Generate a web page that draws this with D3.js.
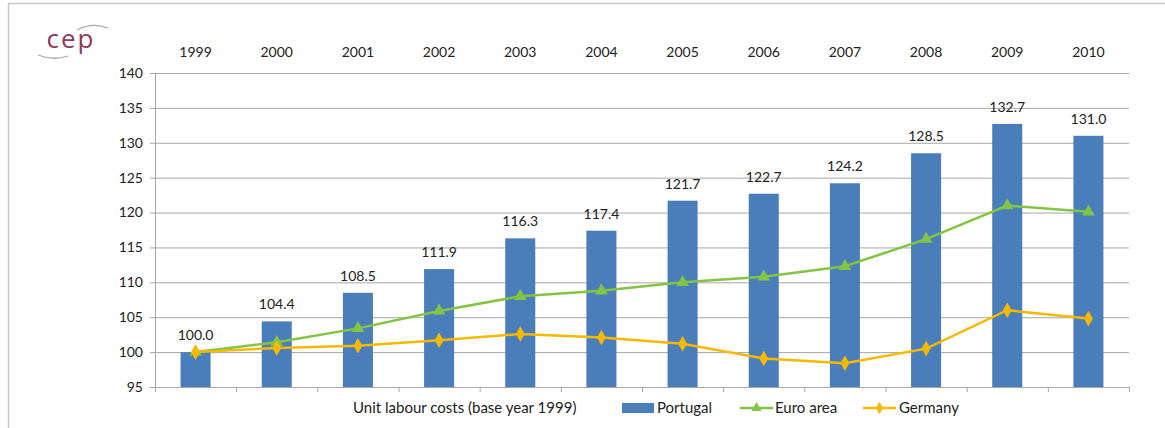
<!DOCTYPE html>
<html><head><meta charset="utf-8">
<script src="https://cdn.jsdelivr.net/npm/d3@7"></script>
<style>body{margin:0;background:#fff}svg{display:block}</style>
</head><body>
<svg id="c" width="1165" height="428"></svg>
<script>
const years = ["1999","2000","2001","2002","2003","2004","2005","2006","2007","2008","2009","2010"];
const portugal = [100.0,104.4,108.5,111.9,116.3,117.4,121.7,122.7,124.2,128.5,132.7,131.0];
const euroArea = [100.0,101.4,103.4,105.9,108.0,108.8,110.0,110.8,112.3,116.2,121.0,120.1];
const germany  = [100.0,100.6,100.9,101.7,102.6,102.1,101.2,99.1,98.4,100.5,106.0,104.8];
const yTicks = [95,100,105,110,115,120,125,130,135,140];
const legendTitle = "Unit labour costs (base year 1999)";
const seriesNames = ["Portugal","Euro area","Germany"];

const font = "Lato, 'Open Sans', sans-serif";
const svg = d3.select("#c");
const L = 155, R = 1129, T = 73, B = 387;
const x = d3.scaleBand().domain(years).range([L, R]).paddingInner(0.63).paddingOuter(0.315);
const xc = d => x(d) + x.bandwidth()/2;
const xb = d3.scaleBand().domain(years).range([L, R]);
const y = d3.scaleLinear().domain([95,140]).range([B, T]);

// frame
svg.append("path").attr("d", `M8.5,428 V3.5 H1165`).attr("fill","none").attr("stroke","#c8c8c8").attr("stroke-width",1.5);

// logo
const lg = svg.append("g");
lg.append("path").attr("d","M77,30 Q92,22 108,28").attr("fill","none").attr("stroke","#a8a8a8").attr("stroke-width",1.3);
lg.append("path").attr("d","M38,55 Q53,61 68,56").attr("fill","none").attr("stroke","#a8a8a8").attr("stroke-width",1.3);
lg.append("text").attr("x",71).attr("y",48).attr("text-anchor","middle").attr("font-family","'Open Sans', sans-serif")
  .attr("font-size",26).attr("fill","#8c3b5c").attr("letter-spacing",2).text("cep");

// gridlines
svg.append("g").selectAll("line").data(yTicks).join("line")
  .attr("x1", L-5).attr("x2", R).attr("y1", d=>y(d)+0.5).attr("y2", d=>y(d)+0.5)
  .attr("stroke","#a6a6a6").attr("stroke-width",1);

// y axis
svg.append("line").attr("x1",L+0.5).attr("x2",L+0.5).attr("y1",T).attr("y2",B).attr("stroke","#a6a6a6");
svg.append("g").selectAll("text").data(yTicks).join("text")
  .attr("x", L-12).attr("y", d=>y(d)).attr("dy","0.35em").attr("text-anchor","end")
  .attr("font-family",font).attr("font-size",14).attr("fill","#222").text(d=>d);

// x axis ticks
svg.append("g").selectAll("line").data(years.concat(["end"])).join("line")
  .attr("x1", (d,i)=> L + i*xb.step() + 0.5).attr("x2",(d,i)=> L + i*xb.step() + 0.5)
  .attr("y1",B).attr("y2",B+5).attr("stroke","#a6a6a6");

// top year labels
svg.append("g").selectAll("text").data(years).join("text")
  .attr("x", d=>xc(d)).attr("y", 57).attr("text-anchor","middle")
  .attr("font-family",font).attr("font-size",14).attr("fill","#222").text(d=>d);

// bars
svg.append("g").selectAll("rect").data(years).join("rect")
  .attr("x", d=>x(d)).attr("width", x.bandwidth())
  .attr("y",(d,i)=>y(portugal[i])).attr("height",(d,i)=>B - y(portugal[i]))
  .attr("fill","#4a7ebb");
svg.append("g").selectAll("text").data(years).join("text")
  .attr("x", d=>xc(d)).attr("y",(d,i)=>y(portugal[i]) - 12).attr("text-anchor","middle")
  .attr("font-family",font).attr("font-size",14).attr("fill","#222").text((d,i)=>portugal[i].toFixed(1));

// lines
const line = d3.line().x((d,i)=>xc(years[i])).y(d=>y(d));
svg.append("path").datum(euroArea).attr("d",line).attr("fill","none").attr("stroke","#84c444").attr("stroke-width",2.5);
svg.append("path").datum(germany).attr("d",line).attr("fill","none").attr("stroke","#f7b800").attr("stroke-width",2.5);
const tri = d3.symbol().type(d3.symbolTriangle).size(70);
const dia = d3.symbol().type(d3.symbolDiamond).size(70);
svg.append("g").selectAll("path").data(euroArea).join("path")
  .attr("transform",(d,i)=>`translate(${xc(years[i])},${y(d)})`).attr("d",tri).attr("fill","#84c444");
svg.append("g").selectAll("path").data(germany).join("path")
  .attr("transform",(d,i)=>`translate(${xc(years[i])},${y(d)})`).attr("d",dia).attr("fill","#f7b800");

// legend
const ly = 408;
const leg = svg.append("g").attr("font-family",font).attr("font-size",15).attr("fill","#222");
leg.append("text").attr("x",353).attr("y",ly).attr("dy","0.35em").text(legendTitle);
leg.append("rect").attr("x",622).attr("y",ly-5).attr("width",32).attr("height",10).attr("fill","#4a7ebb");
leg.append("text").attr("x",657).attr("y",ly).attr("dy","0.35em").text(seriesNames[0]);
leg.append("line").attr("x1",740).attr("x2",773).attr("y1",ly).attr("y2",ly).attr("stroke","#84c444").attr("stroke-width",2.5);
leg.append("path").attr("transform",`translate(756.5,${ly})`).attr("d",d3.symbol().type(d3.symbolTriangle).size(45)).attr("fill","#84c444");
leg.append("text").attr("x",775).attr("y",ly).attr("dy","0.35em").text(seriesNames[1]);
leg.append("line").attr("x1",863).attr("x2",896).attr("y1",ly).attr("y2",ly).attr("stroke","#f7b800").attr("stroke-width",2.5);
leg.append("path").attr("transform",`translate(879.5,${ly})`).attr("d",d3.symbol().type(d3.symbolDiamond).size(45)).attr("fill","#f7b800");
leg.append("text").attr("x",899).attr("y",ly).attr("dy","0.35em").text(seriesNames[2]);
</script>
</body></html>
